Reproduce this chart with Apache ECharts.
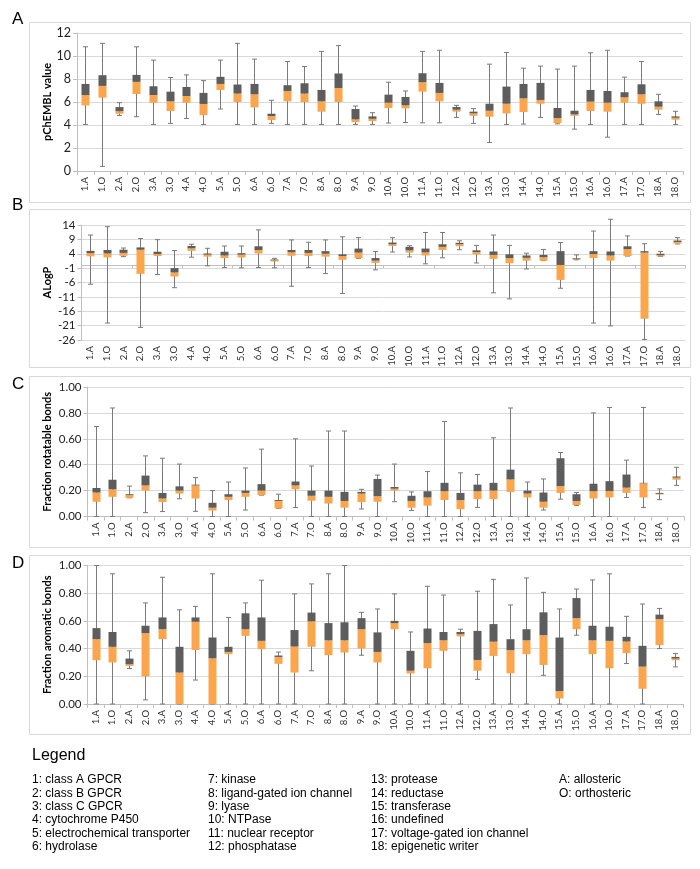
<!DOCTYPE html>
<html><head><meta charset="utf-8">
<script src="https://cdn.jsdelivr.net/npm/echarts@6/dist/echarts.min.js"></script>
<style>html,body{margin:0;padding:0;background:#fff}#c{width:700px;height:869px}</style>
</head><body><div id="c"></div>
<script>
const categories = ['1.A','1.O','2.A','2.O','3.A','3.O','4.A','4.O','5.A','5.O','6.A','6.O','7.A','7.O','8.A','8.O','9.A','9.O','10.A','10.O','11.A','11.O','12.A','12.O','13.A','13.O','14.A','14.O','15.A','15.O','16.A','16.O','17.A','17.O','18.A','18.O'];

// Panel A: pChEMBL value
const aMax = [10.8,11.1,5.94,10.8,9.64,8.13,8.36,7.86,9.64,11.1,9.73,6.15,9.52,9.09,10.4,10.9,5.65,5.07,7.72,6.96,10.4,10.5,5.71,5.42,9.29,10.3,8.94,9.12,8.86,9.12,10.28,10.5,8.16,9.52,6.67,5.19];
const aQ3  = [7.57,8.33,5.56,8.36,7.37,6.9,7.31,6.79,8.19,7.52,7.57,4.98,7.46,7.63,7.05,8.48,5.39,4.75,6.64,6.44,8.5,7.66,5.56,5.16,5.85,7.34,7.57,7.66,5.48,5.24,7.05,6.96,6.85,7.54,6.06,4.75];
const aMed = [6.6,7.4,5.2,7.75,6.61,6.06,6.52,5.83,7.57,6.73,6.67,4.78,6.96,6.73,6.06,7.22,4.49,4.54,5.94,5.71,7.72,6.79,5.33,5.01,5.24,5.85,6.32,6.18,4.6,4.92,6.03,5.94,6.41,6.67,5.59,4.63];
const aQ1  = [5.7,6.38,4.98,6.7,5.94,5.21,5.94,4.86,7.05,6.0,5.53,4.43,6.06,6.0,5.16,6.0,4.25,4.34,5.48,5.45,6.9,6.06,5.16,4.8,4.72,5.01,5.13,5.85,4.17,4.8,5.21,5.16,5.94,5.85,5.33,4.46];
const aMin = [4.05,0.4,4.83,4.72,4.05,4.14,4.57,4.05,5.39,4.05,4.05,4.14,4.05,4.05,4.05,4.05,4.05,4.05,4.17,4.22,4.19,4.19,4.66,4.14,2.48,4.05,4.08,4.66,4.1,3.64,4.05,2.94,4.05,4.05,4.92,4.05];

// Panel B: ALogP
const bMax = [10.5,13.4,6.0,9.3,8.9,5.1,7.3,5.9,6.7,6.7,12.3,2.4,8.8,8.0,8.8,9.9,9.6,4.8,9.6,6.8,11.4,11.4,8.5,6.9,10.5,6.9,4.2,5.5,7.9,3.6,11.9,16.0,10.2,7.5,4.8,9.6];
const bQ3  = [5.0,5.3,5.4,6.2,4.7,-1.0,6.7,4.1,4.7,4.2,6.6,2.0,5.3,5.3,4.9,3.8,5.8,2.5,7.9,6.4,5.8,7.3,7.8,5.2,4.8,3.8,3.4,3.6,4.9,2.4,4.9,4.8,6.6,4.9,4.0,8.6];
const bMed = [4.2,4.1,4.3,5.4,3.9,-2.5,5.9,3.7,3.4,3.7,5.3,1.7,4.5,4.3,4.0,3.2,4.4,1.6,7.3,5.2,4.5,6.4,7.3,4.6,3.6,2.5,2.6,2.8,0.1,2.1,3.9,3.4,5.6,4.4,3.5,8.1];
const bQ1  = [3.1,2.7,3.3,-3.0,3.2,-3.9,5.0,3.0,2.5,2.7,4.1,1.3,3.3,3.2,3.0,1.9,2.5,0.8,6.7,4.4,3.4,5.3,6.6,3.8,2.2,0.7,1.6,1.6,-5.1,1.9,2.5,1.6,3.2,-18.6,3.1,7.5];
const bMin = [-6.6,-20.1,3.0,-21.6,-3.2,-7.8,2.8,-0.2,-0.8,-0.9,-0.8,-0.9,-7.3,-0.8,-2.9,-9.8,2.4,-1.6,4.6,2.9,0.5,2.6,5.4,0.8,-9.6,-11.7,-1.3,1.6,-8.0,1.9,-20.1,-21.1,3.2,-25.8,3.1,7.4];

// Panel C: fraction rotatable bonds
const cMax = [0.695,0.838,0.235,0.468,0.45,0.405,0.3,0.2,0.266,0.375,0.52,0.172,0.6,0.39,0.66,0.66,0.21,0.32,0.405,0.19,0.347,0.734,0.337,0.324,0.608,0.838,0.266,0.29,0.494,0.185,0.8,0.842,0.435,0.842,0.213,0.38];
const cQ3  = [0.22,0.284,0.172,0.316,0.182,0.233,0.246,0.106,0.172,0.2,0.25,0.127,0.27,0.2,0.2,0.19,0.19,0.29,0.228,0.16,0.195,0.26,0.182,0.246,0.26,0.362,0.2,0.185,0.45,0.172,0.253,0.273,0.324,0.26,0.182,0.309];
const cMed = [0.185,0.21,0.165,0.24,0.139,0.2,0.24,0.068,0.152,0.182,0.2,0.12,0.24,0.16,0.152,0.12,0.177,0.157,0.215,0.12,0.147,0.195,0.127,0.195,0.2,0.286,0.177,0.114,0.235,0.12,0.195,0.197,0.223,0.256,0.175,0.3];
const cQ1  = [0.114,0.152,0.144,0.2,0.111,0.177,0.139,0.046,0.127,0.152,0.165,0.063,0.21,0.122,0.1,0.068,0.111,0.114,0.2,0.068,0.084,0.127,0.056,0.134,0.134,0.19,0.147,0.068,0.182,0.089,0.139,0.147,0.182,0.147,0.17,0.284];
const cMin = [0,0,0.144,0.03,0.038,0.137,0.04,0,0,0.05,0.165,0.063,0.07,0,0,0,0.058,0,0.114,0.046,0,0,0,0.07,0,0,0,0.05,0.134,0.084,0,0,0.147,0.07,0.13,0.24];

// Panel D: fraction aromatic bonds
const dMax = [1.0,0.94,0.384,0.73,0.915,0.68,0.705,0.94,0.625,0.73,0.894,0.375,0.795,0.867,0.94,1.0,0.662,0.686,0.795,0.52,0.85,0.787,0.54,0.814,0.9,0.715,0.91,0.806,0.686,0.83,0.896,0.94,0.633,0.722,0.69,0.364];
const dQ3  = [0.548,0.52,0.328,0.565,0.625,0.413,0.625,0.48,0.413,0.655,0.625,0.35,0.534,0.66,0.584,0.59,0.62,0.517,0.6,0.384,0.545,0.52,0.52,0.528,0.577,0.468,0.54,0.662,0.48,0.765,0.565,0.558,0.485,0.42,0.645,0.34];
const dMed = [0.468,0.413,0.287,0.512,0.54,0.227,0.594,0.33,0.376,0.54,0.456,0.34,0.415,0.597,0.46,0.46,0.54,0.376,0.584,0.24,0.44,0.46,0.504,0.318,0.45,0.389,0.46,0.497,0.094,0.62,0.46,0.456,0.451,0.27,0.613,0.328];
const dQ1  = [0.316,0.3,0.275,0.2,0.468,0,0.39,0,0.36,0.492,0.396,0.29,0.227,0.413,0.352,0.372,0.4,0.3,0.54,0.22,0.258,0.384,0.488,0.24,0.347,0.222,0.36,0.282,0.04,0.54,0.36,0.258,0.367,0.11,0.425,0.316];
const dMin = [0,0,0.256,0.03,0,0,0.173,0,0,0,0,0,0,0.24,0,0,0.352,0,0,0,0,0,0,0.178,0,0,0,0.207,0,0.497,0,0,0.292,0,0.4,0.268];

const yTitles = ['pChEMBL value','ALogP','Fraction rotatable bonds','Fraction aromatic bonds'];
const panelLetters = ['A','B','C','D'];
const legendCols = [
  ['1: class A GPCR','2: class B GPCR','3: class C GPCR','4: cytochrome P450','5: electrochemical transporter','6: hydrolase'],
  ['7: kinase','8: ligand-gated ion channel','9: lyase','10: NTPase','11: nuclear receptor','12: phosphatase'],
  ['13: protease','14: reductase','15: transferase','16: undefined','17: voltage-gated ion channel','18: epigenetic writer'],
  ['A: allosteric','O: orthosteric']
];

const ORANGE = '#FBA54C', DARK = '#5D5D5D', WHISK = '#7A7A7A', GRID = '#D9D9D9', AXIS = '#BFBFBF';
const FONT = 'Lato, "Open Sans", sans-serif';

function mk(mn, q1, md, q3, mx) { return categories.map((c, i) => [i, mn[i], q1[i], md[i], q3[i], mx[i]]); }

function renderBox(params, api) {
  const i = api.value(0);
  const lo = api.coord([i, api.value(1)]);
  const p1 = api.coord([i, api.value(2)]);
  const pm = api.coord([i, api.value(3)]);
  const p3 = api.coord([i, api.value(4)]);
  const hi = api.coord([i, api.value(5)]);
  const bw = api.size([1, 0])[0];
  const w = Math.round(bw * 0.48);
  const cx = Math.round(lo[0]) + 0.5;
  const cap = 2.5;
  const ls = { stroke: WHISK, lineWidth: 1 };
  return { type: 'group', children: [
    { type: 'line', shape: { x1: cx, y1: hi[1], x2: cx, y2: lo[1] }, style: ls },
    { type: 'line', shape: { x1: cx - cap, y1: hi[1], x2: cx + cap, y2: hi[1] }, style: ls },
    { type: 'line', shape: { x1: cx - cap, y1: lo[1], x2: cx + cap, y2: lo[1] }, style: ls },
    { type: 'rect', shape: { x: cx - w / 2, y: pm[1], width: w, height: p1[1] - pm[1] }, style: { fill: ORANGE } },
    { type: 'rect', shape: { x: cx - w / 2, y: p3[1], width: w, height: pm[1] - p3[1] }, style: { fill: DARK } }
  ]};
}

const grids = [
  { left: 77, right: 17, top: 33, height: 138 },
  { left: 81.5, right: 14.5, top: 225, height: 115 },
  { left: 87.5, right: 16, top: 387, height: 129.5 },
  { left: 87.5, right: 16.5, top: 565.5, height: 138.5 }
];
const yCfg = [
  { min: 0, max: 12, interval: 2, fmt: v => String(v), fs: 12.5 },
  { min: -26, max: 14, interval: 5, fmt: v => String(v), fs: 11.5 },
  { min: 0, max: 1, interval: 0.2, fmt: v => v.toFixed(2), fs: 11.5 },
  { min: 0, max: 1, interval: 0.2, fmt: v => v.toFixed(2), fs: 11.5 }
];

const xAxes = grids.map((g, k) => ({
  type: 'category', gridIndex: k, data: categories, position: 'bottom',
  axisLine: { show: k !== 1, onZero: false, lineStyle: { color: AXIS } },
  axisTick: { show: k !== 1, length: 4, lineStyle: { color: AXIS } },
  axisLabel: { rotate: 90, fontSize: 9.5, color: '#333', fontFamily: FONT, margin: 6, interval: 0 },
  splitLine: { show: false }
}));
xAxes.push({
  type: 'category', gridIndex: 1, data: categories, position: 'top',
  axisLine: { show: true, onZero: true, lineStyle: { color: AXIS } },
  axisTick: { show: true, inside: true, length: 3, lineStyle: { color: AXIS } },
  axisLabel: { show: false }, splitLine: { show: false }
});

const yAxes = yCfg.map((c, k) => ({
  type: 'value', gridIndex: k, min: c.min, max: c.max, interval: c.interval,
  axisLine: { show: true, lineStyle: { color: AXIS } },
  axisTick: { show: true, length: 4, lineStyle: { color: AXIS } },
  axisLabel: { formatter: c.fmt, fontSize: c.fs, color: '#222', fontFamily: FONT, margin: 6 },
  splitLine: { show: true, lineStyle: { color: GRID, width: 1 } }
}));

const datasets = [mk(aMin, aQ1, aMed, aQ3, aMax), mk(bMin, bQ1, bMed, bQ3, bMax), mk(cMin, cQ1, cMed, cQ3, cMax), mk(dMin, dQ1, dMed, dQ3, dMax)];
const series = datasets.map((d, k) => ({
  type: 'custom', xAxisIndex: k, yAxisIndex: k, data: d, renderItem: renderBox,
  encode: { x: 0, y: [1, 2, 3, 4, 5] }, clip: false, silent: true, z: 3
}));

const panelBoxes = [[22, 202], [209, 367], [376, 547], [555, 734]];
const letterTops = [11, 197, 376, 555];
const graphic = [];
panelBoxes.forEach((b, k) => {
  graphic.push({ type: 'rect', shape: { x: 29.5, y: b[0] + 0.5, width: 661, height: b[1] - b[0] }, style: { fill: 'none', stroke: GRID, lineWidth: 1 }, z: 0 });
  graphic.push({ type: 'text', x: 12, y: letterTops[k], style: { text: panelLetters[k], font: '17px "Liberation Sans", Arial, sans-serif', fill: '#000' }, z: 10 });
  const g = grids[k];
  graphic.push({ type: 'text', x: 47, y: g.top + g.height / 2, rotation: Math.PI / 2,
    style: { text: yTitles[k], font: 'bold 11px ' + FONT, fill: '#000', textAlign: 'center', textVerticalAlign: 'middle' }, z: 10 });
});
graphic.push({ type: 'text', x: 32, y: 748, style: { text: 'Legend', font: '16px "Liberation Sans", Arial, sans-serif', fill: '#000' } });
const colX = [32, 208, 371, 559];
legendCols.forEach((col, ci) => col.forEach((t, ri) => {
  graphic.push({ type: 'text', x: colX[ci], y: 780 + ri * 13.35, style: { text: t, font: '12px "Liberation Sans", Arial, sans-serif', fill: '#000', textVerticalAlign: 'middle' } });
}));

const chart = echarts.init(document.getElementById('c'), null, { renderer: 'canvas' });
chart.setOption({ animation: false, grid: grids, xAxis: xAxes, yAxis: yAxes, series: series, graphic: graphic });
</script></body></html>
